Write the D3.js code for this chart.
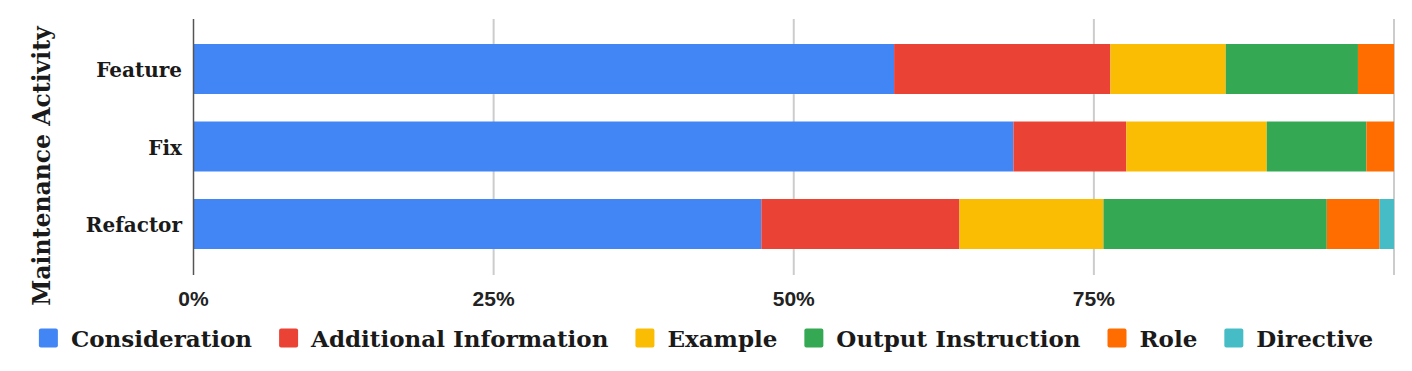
<!DOCTYPE html>
<html>
<head>
<meta charset="utf-8">
<script src="https://cdn.jsdelivr.net/npm/d3@7"></script>
<style>
  body { margin: 0; background: #fff; }
  svg { display: block; }
</style>
</head>
<body>
<svg width="1412" height="371"></svg>
<script>
// activities (rows) and prompt component types (stack keys)
var activities = ["Feature", "Fix", "Refactor"];
var components = ["Consideration", "Additional Information", "Example", "Output Instruction", "Role", "Directive"];
var colors = ["#4285f4", "#ea4335", "#fbbc04", "#34a853", "#ff6d01", "#46bdc6"];

// share (%) of each component per activity
var consideration = [58.3, 68.3, 47.3];
var additionalInfo = [18.0, 9.4, 16.5];
var example = [9.6, 11.7, 12.0];
var outputInstruction = [11.0, 8.3, 18.6];
var role = [3.0, 2.3, 4.4];
var directive = [0, 0, 1.2];

var tickValues = [0, 0.25, 0.5, 0.75, 1];
var tickLabels = ["0%", "25%", "50%", "75%", ""];

var series = [consideration, additionalInfo, example, outputInstruction, role, directive];
var rows = activities.map(function (a, i) {
  var r = { activity: a };
  components.forEach(function (c, j) {
    r[c] = series[j][i];
  });
  return r;
});

var svg = d3.select("svg");

var x = d3.scaleLinear().domain([0, 1]).range([193.5, 1394]);
var y = d3
  .scaleBand()
  .domain(activities)
  .range([30.25, 262.75])
  .paddingInner(0.355)
  .paddingOuter(0.1775);
var color = d3.scaleOrdinal().domain(components).range(colors);

var stacked = d3.stack().keys(components).offset(d3.stackOffsetExpand)(rows);

// gridlines
svg
  .append("g")
  .selectAll("line")
  .data(tickValues.slice(1))
  .enter()
  .append("line")
  .attr("x1", function (d) { return x(d); })
  .attr("x2", function (d) { return x(d); })
  .attr("y1", 19)
  .attr("y2", 275)
  .style("stroke", "#cccccc")
  .style("stroke-width", 2);

// bars
svg
  .append("g")
  .selectAll("g")
  .data(stacked)
  .enter()
  .append("g")
  .style("fill", function (d) { return color(d.key); })
  .selectAll("rect")
  .data(function (d) { return d; })
  .enter()
  .append("rect")
  .attr("x", function (d) { return x(d[0]); })
  .attr("width", function (d) { return x(d[1]) - x(d[0]); })
  .attr("y", function (d) { return y(d.data.activity); })
  .attr("height", y.bandwidth());

// baseline axis
svg
  .append("line")
  .attr("x1", x(0))
  .attr("x2", x(0))
  .attr("y1", 19)
  .attr("y2", 275)
  .style("stroke", "#555")
  .style("stroke-width", 1.5);

// x tick labels
svg
  .append("g")
  .selectAll("text")
  .data(tickValues)
  .enter()
  .append("text")
  .attr("x", function (d) { return x(d); })
  .attr("y", 306)
  .attr("text-anchor", "middle")
  .style("font-family", "'Liberation Sans', Arial, sans-serif")
  .style("font-weight", "bold")
  .style("font-size", "21px")
  .style("fill", "#222")
  .text(function (d, i) { return tickLabels[i]; });

// category labels
svg
  .append("g")
  .selectAll("text")
  .data(activities)
  .enter()
  .append("text")
  .attr("x", 182)
  .attr("y", function (d) { return y(d) + y.bandwidth() / 2 + 8; })
  .attr("text-anchor", "end")
  .style("font-family", "'DejaVu Serif', serif")
  .style("font-weight", "bold")
  .style("font-size", "20px")
  .style("fill", "#1a1a1a")
  .text(function (d) { return d; });

// axis title
svg
  .append("text")
  .attr("transform", "translate(50,166) rotate(-90)")
  .attr("text-anchor", "middle")
  .style("font-family", "'DejaVu Serif', serif")
  .style("font-weight", "bold")
  .style("font-size", "23.5px")
  .style("fill", "#1a1a1a")
  .text("Maintenance Activity");

// legend
var legend = svg.append("g");
var item = legend
  .selectAll("g")
  .data(components)
  .enter()
  .append("g");
item
  .append("rect")
  .attr("y", 328.5)
  .attr("width", 19)
  .attr("height", 19)
  .attr("rx", 2)
  .style("fill", function (d) { return color(d); });
item
  .append("text")
  .attr("x", 32)
  .attr("y", 347)
  .style("font-family", "'DejaVu Serif', serif")
  .style("font-weight", "bold")
  .style("font-size", "23px")
  .style("fill", "#1a1a1a")
  .text(function (d) { return d; });

var pos = 0;
item.each(function () {
  var w = this.querySelector("text").getComputedTextLength();
  d3.select(this).attr("transform", "translate(" + pos + ",0)");
  pos += 32 + w + 27;
});
var total = pos - 27;
legend.attr("transform", "translate(" + (706 - total / 2) + ",0)");
</script>
</body>
</html>
